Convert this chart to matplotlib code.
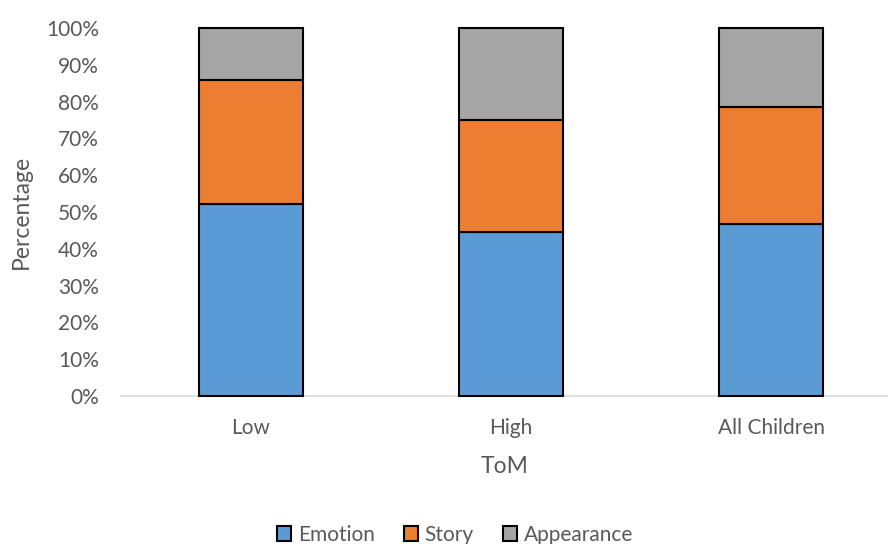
import matplotlib
matplotlib.use("Agg")
import matplotlib.pyplot as plt
from matplotlib.ticker import PercentFormatter

groups = ["Low", "High", "All Children"]
emotion = [0.521, 0.445, 0.468]
story = [0.338, 0.305, 0.316]
appearance = [0.141, 0.250, 0.216]

series_names = ["Emotion", "Story", "Appearance"]
colors = ["#5B9BD5", "#ED7D31", "#A5A5A5"]

plt.rcParams['font.family'] = ['Lato', 'DejaVu Sans']

fig = plt.figure(figsize=(8.88, 5.44), dpi=100)
ax = fig.add_axes([121 / 888, 148 / 544, (888 - 121) / 888, 368 / 544])

x = range(len(groups))
bottom = [0.0] * len(groups)
for vals, name, col in zip([emotion, story, appearance], series_names, colors):
	bars = ax.bar(x, vals, width=0.4, bottom=bottom, color=col, edgecolor="black",
		linewidth=1.5, label=name, zorder=3)
	for b in bars:
		b.set_clip_on(False)
	bottom = [b + v for b, v in zip(bottom, vals)]

ax.set_xlim(-0.5, 2.45)
ax.set_ylim(0, 1)
ax.set_yticks([i / 10 for i in range(11)])
ax.yaxis.set_major_formatter(PercentFormatter(1.0, decimals=0))
ax.set_xticks(list(x))
ax.set_xticklabels(groups)
ax.tick_params(axis="both", length=0, labelsize=15, labelcolor="#595959")
ax.tick_params(axis="x", pad=16)
ax.tick_params(axis="y", pad=16)

for s in ["top", "right", "left"]:
	ax.spines[s].set_visible(False)
ax.spines["bottom"].set_color("#D9D9D9")
ax.spines["bottom"].set_linewidth(1.2)

ax.set_ylabel("Percentage", fontsize=16.5, color="#595959", labelpad=10)
ax.set_xlabel("ToM", fontsize=16.5, color="#595959", labelpad=13)

leg = fig.legend(loc="center", bbox_to_anchor=(455 / 888, 9 / 544), ncol=3, frameon=False,
	fontsize=15, handlelength=0.7, handleheight=0.7, handletextpad=0.3, columnspacing=1.4)
for t in leg.get_texts():
	t.set_color("#595959")

fig.savefig("out.png", dpi=100)
